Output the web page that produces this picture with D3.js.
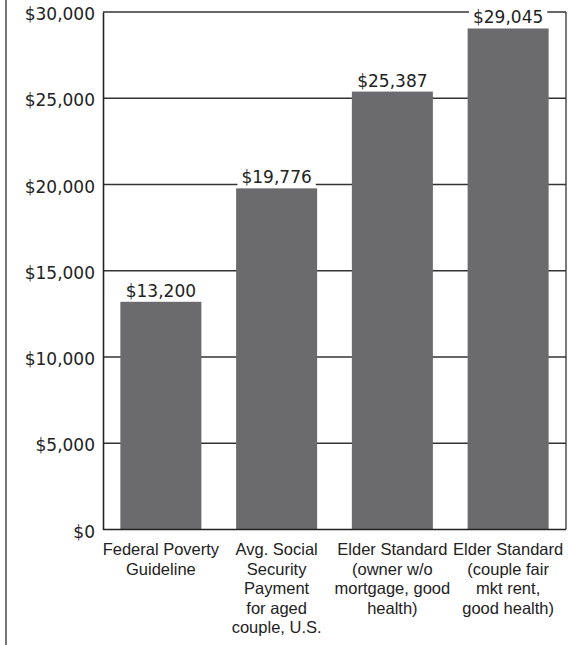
<!DOCTYPE html>
<html>
<head>
<meta charset="utf-8">
<script src="https://cdn.jsdelivr.net/npm/d3@7"></script>
<style>
  html, body { margin: 0; padding: 0; background: #fff; }
  svg { display: block; }
</style>
</head>
<body>
<svg id="chart" width="568" height="645"></svg>
<script>
// Annual income benchmarks for an elderly couple
const categories = [
  ["Federal Poverty", "Guideline"],
  ["Avg. Social", "Security", "Payment", "for aged", "couple, U.S."],
  ["Elder Standard", "(owner w/o", "mortgage, good", "health)"],
  ["Elder Standard", "(couple fair", "mkt rent,", "good health)"]
];
const values = [13200, 19776, 25387, 29045];
const yTicks = [0, 5000, 10000, 15000, 20000, 25000, 30000];

const svg = d3.select("#chart");
const margin = { left: 103, right: 2, top: 12, bottom: 115.5 };
const W = 568, H = 645;
const x0 = margin.left, x1 = W - margin.right;
const y0 = H - margin.bottom, y1 = margin.top;

const x = d3.scaleBand()
  .domain(d3.range(categories.length))
  .range([x0, x1])
  .paddingInner(0.3)
  .paddingOuter(0.15);
const y = d3.scaleLinear().domain([0, 30000]).range([y0, y1]);

const fmt = d3.format("$,");
const ink = "#222";

// page rule on the far left
svg.append("line")
  .attr("x1", 6).attr("x2", 6).attr("y1", 0).attr("y2", H)
  .attr("stroke", "#555").attr("stroke-width", 1.6);

// horizontal gridlines
svg.append("g").selectAll("line").data(yTicks.filter(t => t > 0)).join("line")
  .attr("x1", x0).attr("x2", x1)
  .attr("y1", d => y(d)).attr("y2", d => y(d))
  .attr("stroke", "#333").attr("stroke-width", 1.3);

// right frame edge
svg.append("line")
  .attr("x1", x1).attr("x2", x1).attr("y1", y1).attr("y2", y0)
  .attr("stroke", "#333").attr("stroke-width", 1.3);

// bars
svg.append("g").selectAll("rect").data(values).join("rect")
  .attr("x", (d, i) => x(i))
  .attr("width", x.bandwidth())
  .attr("y", d => y(d))
  .attr("height", d => y(0) - y(d))
  .attr("fill", "#6b6b6d");

// left and bottom axis lines
const axisY = d3.axisLeft(y).tickValues(yTicks).tickSize(0).tickPadding(8)
  .tickFormat(fmt);
const gy = svg.append("g").attr("transform", `translate(${x0},0)`).call(axisY);
gy.select(".domain").attr("stroke", "#222").attr("stroke-width", 1.6);
gy.selectAll("text")
  .attr("font-family", "DejaVu Sans").attr("font-size", 17)
  .attr("dy", "0.45em")
  .attr("fill", ink);

svg.append("line")
  .attr("x1", x0).attr("x2", x1).attr("y1", y0).attr("y2", y0)
  .attr("stroke", "#222").attr("stroke-width", 1.6);

// value labels above each bar, knocked out of the gridlines
const labels = svg.append("g").selectAll("g").data(values).join("g")
  .attr("transform", (d, i) => `translate(${x(i) + x.bandwidth() / 2},${y(d) - 5})`);
labels.each(function (d) {
  const g = d3.select(this);
  const t = g.append("text")
    .attr("text-anchor", "middle")
    .attr("font-family", "DejaVu Sans").attr("font-size", 17)
    .attr("fill", ink)
    .text(fmt(d));
  const bb = t.node().getBBox();
  g.insert("rect", "text")
    .attr("x", bb.x - 4).attr("y", bb.y + 1)
    .attr("width", bb.width + 8).attr("height", bb.height - 2)
    .attr("fill", "#fff");
});

// category labels beneath the bars
const cats = svg.append("g").selectAll("text").data(categories).join("text")
  .attr("text-anchor", "middle")
  .attr("font-family", "Liberation Sans").attr("font-size", 16.5)
  .attr("fill", ink)
  .attr("transform", (d, i) => `translate(${x(i) + x.bandwidth() / 2},${y0 + 25.5})`);
cats.selectAll("tspan").data(d => d).join("tspan")
  .attr("x", 0)
  .attr("y", (d, j) => j * 19.5)
  .text(d => d);
</script>
</body>
</html>
